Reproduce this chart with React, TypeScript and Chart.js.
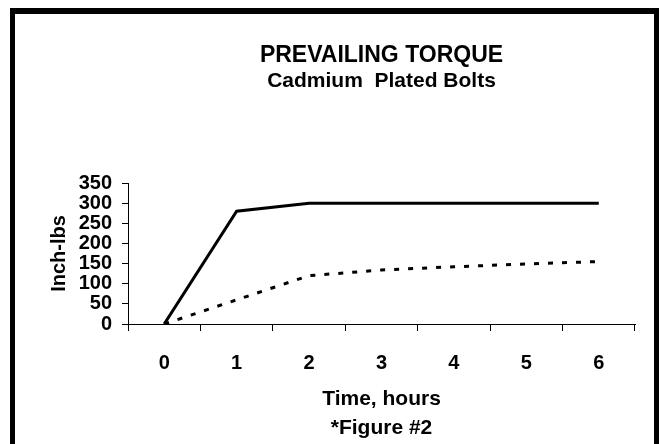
import React, { useEffect, useRef } from 'react';
import { Chart, registerables } from 'chart.js';

Chart.register(...registerables);

// ---- data ----
const hours = ['0', '1', '2', '3', '4', '5', '6'];
const upperTorque = [0, 280, 300, 300, 300, 300, 300];
const lowerTorque = [0, 60, 120, 134, 142, 149, 155];
const yMin = 0;
const yMax = 350;
const yStep = 50;
const titleText = 'PREVAILING TORQUE';
const subtitleText = 'Cadmium  Plated Bolts';
const xTitleLines = ['Time, hours', '*Figure #2'];
const yTitleText = 'Inch-lbs';

const FONT = "'Liberation Sans', Arial, Helvetica, sans-serif";

const framePlugin = {
  id: 'frame',
  afterDraw(chart: any) {
    const c = chart.ctx;
    c.save();
    c.fillStyle = '#000';
    c.fillRect(10, 8, 649, 6);
    c.fillRect(10, 8, 5, 436);
    c.fillRect(654, 8, 5, 436);
    c.restore();
  },
};

export default function App() {
  const ref = useRef<HTMLCanvasElement | null>(null);

  useEffect(() => {
    if (!ref.current) return;
    Chart.defaults.font.family = FONT;
    Chart.defaults.color = '#000';
    const chart = new Chart(ref.current, {
      type: 'line',
      data: {
        labels: hours,
        datasets: [
          {
            label: 'upper',
            data: upperTorque,
            borderColor: '#000',
            borderWidth: 3,
            pointRadius: 0,
            tension: 0,
            fill: false,
          },
          {
            label: 'lower',
            data: lowerTorque,
            borderColor: '#000',
            borderWidth: 3,
            borderDash: [5, 9],
            borderCapStyle: 'butt',
            pointRadius: 0,
            tension: 0,
            fill: false,
          },
        ],
      },
      options: {
        responsive: false,
        animation: false,
        devicePixelRatio: 1,
        layout: { padding: { top: 42, left: 40, right: 24, bottom: 0 } },
        plugins: {
          legend: { display: false },
          tooltip: { enabled: false },
          title: {
            display: true,
            text: titleText,
            fullSize: false,
            color: '#000',
            font: { size: 23, weight: 'bold', lineHeight: 1.2, family: FONT },
            padding: { top: 0, bottom: 0 },
          },
          subtitle: {
            display: true,
            text: subtitleText,
            fullSize: false,
            color: '#000',
            font: { size: 21, weight: 'bold', lineHeight: 1.1, family: FONT },
            padding: { top: 0, bottom: 90.3 },
          },
        },
        scales: {
          x: {
            type: 'category',
            offset: true,
            grid: {
              offset: true,
              drawOnChartArea: false,
              color: '#000',
              tickLength: 7,
              tickWidth: 1,
            },
            border: { color: '#000', width: 1 },
            ticks: {
              padding: 20,
              color: '#000',
              maxRotation: 0,
              autoSkip: false,
              font: { size: 20, weight: 'bold', lineHeight: 1.2, family: FONT },
            },
            title: {
              display: true,
              text: xTitleLines,
              color: '#000',
              font: { size: 21, weight: 'bold', lineHeight: 29 / 21, family: FONT },
              padding: { top: 11, bottom: 1 },
            },
            afterFit: (s: any) => {
              s.height = 120;
            },
          },
          y: {
            min: yMin,
            max: yMax,
            grid: {
              drawOnChartArea: false,
              color: '#000',
              tickLength: 6,
              tickWidth: 1,
            },
            border: { color: '#000', width: 1 },
            ticks: {
              stepSize: yStep,
              autoSkip: false,
              padding: 10,
              color: '#000',
              font: { size: 20, weight: 'bold', lineHeight: 1, family: FONT },
            },
            title: {
              display: true,
              text: yTitleText,
              color: '#000',
              font: { size: 20, weight: 'bold', lineHeight: 1.2, family: FONT },
              padding: { top: 7, bottom: 0 },
            },
            afterFit: (s: any) => {
              s.width = 88;
            },
          },
        },
      } as any,
      plugins: [framePlugin],
    });
    return () => chart.destroy();
  }, []);

  return (
    <div style={{ position: 'fixed', left: 0, top: 0, width: 659, height: 444, background: '#fff' }}>
      <canvas ref={ref} width={659} height={444} style={{ display: 'block', width: 659, height: 444 }} />
    </div>
  );
}
